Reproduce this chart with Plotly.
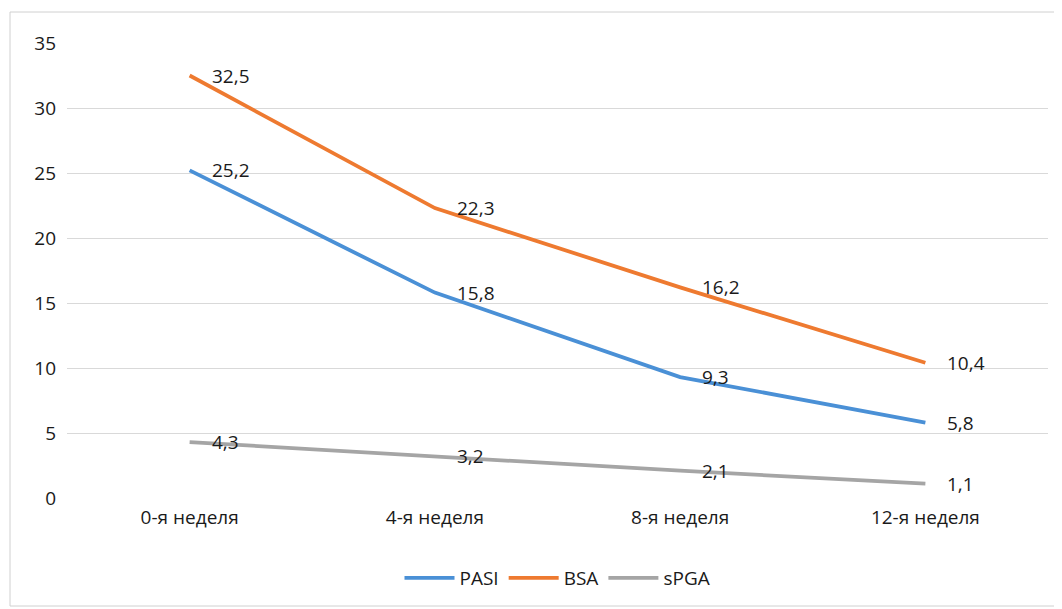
import plotly.graph_objects as go

categories = ["0-я неделя", "4-я неделя", "8-я неделя", "12-я неделя"]
pasi = [25.2, 15.8, 9.3, 5.8]
bsa = [32.5, 22.3, 16.2, 10.4]
spga = [4.3, 3.2, 2.1, 1.1]
y_ticks = [0, 5, 10, 15, 20, 25, 30, 35]

def fmt(v):
    return f"{v:.1f}".replace(".", ",")

series = [("PASI", pasi, "#4a90d6"), ("BSA", bsa, "#ee7a30"), ("sPGA", spga, "#a5a5a5")]
FONT = "Open Sans, Lato, sans-serif"
TXT = "#1a1a1a"

fig = go.Figure()
for name, vals, color in series:
    fig.add_trace(go.Scatter(
        x=categories, y=vals, name=name, mode="lines",
        line=dict(color=color, width=3.8),
    ))
    for c, v in zip(categories, vals):
        fig.add_annotation(x=c, y=v, text=fmt(v), showarrow=False,
                           xanchor="left", yanchor="middle", xshift=20,
                           font=dict(family=FONT, size=19, color=TXT))

# page has an 8px body margin; compensate so the chart lands where the reference is
OFF = 8
W, H = 1062 - OFF, 609 - OFF
ml, mt = 67 - OFF, 43 - OFF
mr = W - (1048 - OFF)
mb = H - (498 - OFF)
pw, ph = W - ml - mr, H - mt - mb

def px_x(p):
    return (p - OFF - ml) / pw

def px_y(p):
    return (H - mb - (p - OFF)) / ph

fig.add_shape(type="rect", xref="paper", yref="paper",
              x0=px_x(10), x1=px_x(1058), y0=px_y(606), y1=px_y(12),
              line=dict(color="#d0d0d0", width=1), layer="below")

fig.update_layout(
    width=W, height=H,
    margin=dict(l=ml, r=mr, t=mt, b=mb),
    paper_bgcolor="white", plot_bgcolor="white",
    font=dict(family=FONT, size=19, color=TXT),
    showlegend=True,
    legend=dict(orientation="h", x=0.5, xanchor="center", y=px_y(578), yanchor="middle",
                font=dict(size=19), itemwidth=50, traceorder="normal"),
    xaxis=dict(type="category", range=[-0.5, 3.5], showgrid=False, showline=False,
               ticks="", tickfont=dict(size=19)),
    yaxis=dict(range=[0, 35], tickvals=y_ticks, showgrid=True, gridcolor="#d9d9d9",
               gridwidth=1, zeroline=False, showline=False, ticks="",
               tickfont=dict(size=19)),
)
fig.update_yaxes(ticklabelstandoff=10)
fig.update_xaxes(ticklabelstandoff=6)
fig.write_html("out.html")
